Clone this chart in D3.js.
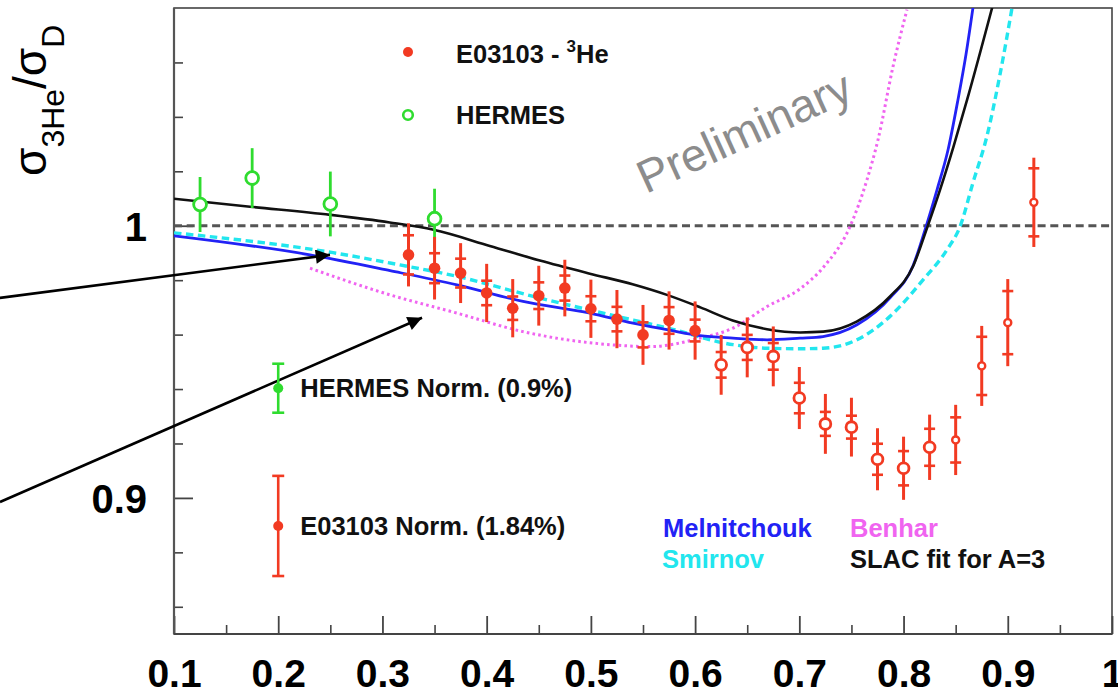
<!DOCTYPE html>
<html>
<head>
<meta charset="utf-8">
<script src="https://cdn.jsdelivr.net/npm/d3@7"></script>
<style>
  html, body { margin: 0; padding: 0; background: #fff; overflow: hidden; }
  svg { display: block; font-family: "Liberation Sans", Arial, Helvetica, sans-serif; }
</style>
</head>
<body>
<svg id="chart" width="1118" height="695"></svg>
<script>
// ---- E03103 3He/D cross-section ratio ----
const e03X = [0.325, 0.35, 0.375, 0.4, 0.425, 0.45, 0.475, 0.5, 0.525, 0.55, 0.575, 0.6,
              0.625, 0.65, 0.675, 0.7, 0.725, 0.75, 0.775, 0.8, 0.825,
              0.85, 0.875, 0.9, 0.925];
const e03Y = [0.9893, 0.9844, 0.9826, 0.9753, 0.9697, 0.9743, 0.9771, 0.9695, 0.9657, 0.9599, 0.9652, 0.9615,
              0.9489, 0.9553, 0.9520, 0.9367, 0.9272, 0.9260, 0.9142, 0.9109, 0.9186,
              0.9213, 0.9485, 0.9644, 1.0086];
const e03Stat = [0.0072, 0.0055, 0.0053, 0.0045, 0.0043, 0.0049, 0.0046, 0.0046, 0.0045, 0.0046, 0.0049, 0.0040,
                 0.0047, 0.0046, 0.0049, 0.0056, 0.0044, 0.0042, 0.0057, 0.0063, 0.0068,
                 0.0083, 0.0107, 0.0116, 0.0125];
const e03Tot = [0.0116, 0.0115, 0.0110, 0.0107, 0.0107, 0.0110, 0.0104, 0.0107, 0.0107, 0.0110, 0.0107, 0.0107,
                0.0110, 0.0110, 0.0110, 0.0114, 0.0110, 0.0108, 0.0114, 0.0116, 0.0120,
                0.0129, 0.0147, 0.0160, 0.0164];
const e03Marker = ["filled", "filled", "filled", "filled", "filled", "filled", "filled", "filled", "filled", "filled", "filled", "filled",
                   "open", "open", "open", "open", "open", "open", "open", "open", "open",
                   "small", "small", "small", "small"];

// ---- HERMES ----
const hermesX = [0.125, 0.175, 0.25, 0.35];
const hermesY = [1.0078, 1.0175, 1.0080, 1.0026];
const hermesErr = [0.0101, 0.0110, 0.0119, 0.0110];

// ---- normalization uncertainties (drawn at x = 0.2) ----
const normLabels = ["HERMES Norm. (0.9%)", "E03103 Norm. (1.84%)"];
const normX = [0.2, 0.2];
const normY = [0.9403, 0.8897];
const normErr = [0.009, 0.0184];

// ---- model calculations ----
const slacX = [0.100, 0.173, 0.250, 0.307, 0.349, 0.403, 0.451, 0.499, 0.540, 0.573, 0.605, 0.636,
               0.669, 0.701, 0.723, 0.755, 0.787, 0.809, 0.823, 0.835, 0.848, 0.861, 0.885];
const slacY = [1.0099, 1.0070, 1.0040, 1.0012, 0.9985, 0.9926, 0.9872, 0.9824, 0.9785, 0.9746, 0.9700, 0.9652,
               0.9620, 0.9608, 0.9611, 0.9648, 0.9740, 0.9850, 0.9997, 1.0132, 1.0292, 1.0463, 1.0801];

const melnX = [0.100, 0.2305, 0.3073, 0.3715, 0.4349, 0.4992, 0.5404, 0.5730, 0.6047, 0.6364, 0.6690,
               0.7006, 0.7227, 0.7553, 0.7870, 0.8091, 0.8206, 0.8321, 0.8427, 0.8522, 0.8599, 0.8666];
const melnY = [0.9963, 0.9893, 0.9835, 0.9783, 0.9722, 0.9679, 0.9642, 0.9618, 0.9596, 0.9587, 0.9581,
               0.9587, 0.9593, 0.9636, 0.9735, 0.9853, 0.9985, 1.0132, 1.0279, 1.0463, 1.0629, 1.0801];

const smirX = [0.100, 0.2526, 0.3073, 0.3715, 0.4512, 0.5183, 0.5730, 0.6364, 0.6690, 0.7006, 0.7227,
               0.7553, 0.7870, 0.8187, 0.8417, 0.8542, 0.8666, 0.8801, 0.8925, 0.9041];
const smirY = [0.9974, 0.9901, 0.9863, 0.9814, 0.9734, 0.9673, 0.9625, 0.9563, 0.9550, 0.9548, 0.9550,
               0.9581, 0.9667, 0.9801, 0.9912, 0.9997, 1.0158, 1.0331, 1.0555, 1.0801];

const benhX = [0.2305, 0.3073, 0.3715, 0.4349, 0.5183, 0.5567, 0.6047, 0.6364, 0.6690, 0.7006, 0.7227,
               0.7486, 0.7649, 0.7755, 0.7899, 0.8033];
const benhY = [0.9844, 0.9746, 0.9679, 0.9611, 0.9563, 0.9556, 0.9587, 0.9624, 0.9703, 0.9768, 0.9846,
               0.9997, 1.0169, 1.0316, 1.0585, 1.0794];

// ---- axis ticks ----
const xMajor = [0.1, 0.2, 0.3, 0.4, 0.5, 0.6, 0.7, 0.8, 0.9, 1.0];
const xMinor = [0.15, 0.25, 0.35, 0.45, 0.55, 0.65, 0.75, 0.85, 0.95];
const xTickLabels = ["0.1", "0.2", "0.3", "0.4", "0.5", "0.6", "0.7", "0.8", "0.9", "1"];
const yMajor = [0.9, 1.0];
const yMinor = [0.86, 0.88, 0.92, 0.94, 0.96, 0.98, 1.02, 1.04, 1.06];
const yTickLabels = ["0.9", "1"];

// ---- annotation arrows (tail, head) in axis units ----
const arrowTailX = [-0.067, -0.067];
const arrowTailY = [0.9735, 0.8985];
const arrowHeadX = [0.2497, 0.338];
const arrowHeadY = [0.9893, 0.9662];

// ---- colours ----
const RED = "#f23a22";
const GREEN = "#2fdc2f";
const BLUE = "#2222f5";
const CYAN = "#22e6ee";
const MAGENTA = "#f064f0";

const svg = d3.select("#chart");
const margin = { left: 174, right: 6, top: 8, bottom: 61 };
const W = 1118, H = 695;

const x = d3.scaleLinear().domain([0.1, 1.0]).range([margin.left, W - margin.right]);
const y = d3.scaleLinear().domain([0.85, 1.08]).range([H - margin.bottom, margin.top]);

const x0 = x.range()[0], x1 = x.range()[1];
const yb = y.range()[0], yt = y.range()[1];

svg.append("defs").append("clipPath").attr("id", "plotClip")
  .append("rect").attr("x", x0).attr("y", yt).attr("width", x1 - x0).attr("height", yb - yt);

svg.append("defs").append("marker")
  .attr("id", "arrowHead")
  .attr("viewBox", "0 0 10 10")
  .attr("refX", 10).attr("refY", 5)
  .attr("markerWidth", 6.5).attr("markerHeight", 5.5)
  .attr("markerUnits", "strokeWidth")
  .attr("orient", "auto")
  .append("path").attr("d", "M0,0 L10,5 L0,10 Z").attr("fill", "#000");

// ---- frame ----
svg.append("rect")
  .attr("x", x0).attr("y", yt).attr("width", x1 - x0).attr("height", yb - yt)
  .attr("fill", "none").attr("stroke", "#444").attr("stroke-width", 1.6);

// ---- axes ----
const xMajAxis = d3.axisBottom(x).tickValues(xMajor).tickSize(-18).tickSizeOuter(0)
  .tickFormat((d, i) => xTickLabels[i]);
const gx = svg.append("g").attr("transform", `translate(0,${yb})`).call(xMajAxis);
gx.select(".domain").remove();
gx.selectAll(".tick line").attr("stroke", "#444").attr("stroke-width", 1.8);
gx.selectAll(".tick text").attr("y", 52.5).attr("dy", null)
  .attr("font-size", 39).attr("font-weight", "bold").attr("fill", "#000")
  .attr("font-family", "'Liberation Sans', Arial, Helvetica, sans-serif");

const gxm = svg.append("g").attr("transform", `translate(0,${yb})`)
  .call(d3.axisBottom(x).tickValues(xMinor).tickSize(-9).tickSizeOuter(0).tickFormat(""));
gxm.select(".domain").remove();
gxm.selectAll(".tick line").attr("stroke", "#444").attr("stroke-width", 1.6);

const yMajAxis = d3.axisLeft(y).tickValues(yMajor).tickSize(-19).tickSizeOuter(0)
  .tickFormat((d, i) => yTickLabels[i]);
const gy = svg.append("g").attr("transform", `translate(${x0},0)`).call(yMajAxis);
gy.select(".domain").remove();
gy.selectAll(".tick line").attr("stroke", "#444").attr("stroke-width", 1.8);
gy.selectAll(".tick text").attr("x", -27).attr("dy", "15")
  .attr("font-size", 40).attr("font-weight", "bold").attr("fill", "#000")
  .attr("font-family", "'Liberation Sans', Arial, Helvetica, sans-serif");

const gym = svg.append("g").attr("transform", `translate(${x0},0)`)
  .call(d3.axisLeft(y).tickValues(yMinor).tickSize(-9).tickSizeOuter(0).tickFormat(""));
gym.select(".domain").remove();
gym.selectAll(".tick line").attr("stroke", "#444").attr("stroke-width", 1.6);

// left and bottom axis lines a bit heavier
svg.append("line").attr("x1", x0).attr("x2", x0).attr("y1", yt).attr("y2", yb)
  .attr("stroke", "#555").attr("stroke-width", 2.2);
svg.append("line").attr("x1", x0).attr("x2", x1).attr("y1", yb).attr("y2", yb)
  .attr("stroke", "#444").attr("stroke-width", 2);

// ---- y-axis title ----
const yTitle = svg.append("text")
  .attr("transform", "translate(46,176) rotate(-90)")
  .attr("font-size", 46).attr("fill", "#000");
yTitle.append("tspan").text("σ");
yTitle.append("tspan").attr("font-size", 32).attr("dy", 18).text("3He");
yTitle.append("tspan").attr("dy", -18).text("/σ");
yTitle.append("tspan").attr("font-size", 32).attr("dy", 18).text("D");

// ---- "Preliminary" watermark ----
svg.append("text")
  .attr("transform", "translate(646,194) rotate(-24.5)")
  .attr("font-size", 46).attr("fill", "#8c8c8c")
  .text("Preliminary");

// ---- curves ----
const plot = svg.append("g").attr("clip-path", "url(#plotClip)");

plot.append("line")
  .attr("x1", x0).attr("x2", x1).attr("y1", y(1)).attr("y2", y(1))
  .attr("stroke", "#555").attr("stroke-width", 3.2).attr("stroke-dasharray", "8,4.7");

const line = d3.line().x(d => x(d[0])).y(d => y(d[1])).curve(d3.curveMonotoneX);
const zip = (a, b) => a.map((v, i) => [v, b[i]]);

plot.append("path").attr("d", line(zip(benhX, benhY)))
  .attr("fill", "none").attr("stroke", MAGENTA).attr("stroke-width", 3)
  .attr("stroke-dasharray", "2.6,3.2");
plot.append("path").attr("d", line(zip(smirX, smirY)))
  .attr("fill", "none").attr("stroke", CYAN).attr("stroke-width", 3.4)
  .attr("stroke-dasharray", "7.5,4.5");
plot.append("path").attr("d", line(zip(melnX, melnY)))
  .attr("fill", "none").attr("stroke", BLUE).attr("stroke-width", 2.8);
plot.append("path").attr("d", line(zip(slacX, slacY)))
  .attr("fill", "none").attr("stroke", "#111").attr("stroke-width", 2.6);

// ---- annotation arrows ----
arrowTailX.forEach((tx, i) => {
  svg.append("line")
    .attr("x1", x(tx)).attr("y1", y(arrowTailY[i]))
    .attr("x2", x(arrowHeadX[i])).attr("y2", y(arrowHeadY[i]))
    .attr("stroke", "#000").attr("stroke-width", 2.6)
    .attr("marker-end", "url(#arrowHead)");
});

// ---- HERMES points ----
const gH = plot.append("g");
hermesX.forEach((hx, i) => {
  gH.append("line")
    .attr("x1", x(hx)).attr("x2", x(hx))
    .attr("y1", y(hermesY[i] - hermesErr[i])).attr("y2", y(hermesY[i] + hermesErr[i]))
    .attr("stroke", GREEN).attr("stroke-width", 2.8);
  gH.append("circle").attr("cx", x(hx)).attr("cy", y(hermesY[i])).attr("r", 6.4)
    .attr("fill", "#fff").attr("stroke", GREEN).attr("stroke-width", 2.8);
});

// ---- E03103 points ----
const gE = plot.append("g");
e03X.forEach((ex, i) => {
  const cx = x(ex), v = e03Y[i];
  gE.append("line")
    .attr("x1", cx).attr("x2", cx)
    .attr("y1", y(v - e03Tot[i])).attr("y2", y(v + e03Tot[i]))
    .attr("stroke", RED).attr("stroke-width", 3);
  [v - e03Stat[i], v + e03Stat[i]].forEach(s => {
    gE.append("line")
      .attr("x1", cx - 5.5).attr("x2", cx + 5.5)
      .attr("y1", y(s)).attr("y2", y(s))
      .attr("stroke", RED).attr("stroke-width", 2.6);
  });
  const m = e03Marker[i];
  if (m === "filled") {
    gE.append("circle").attr("cx", cx).attr("cy", y(v)).attr("r", 5.8).attr("fill", RED);
  } else {
    gE.append("circle").attr("cx", cx).attr("cy", y(v)).attr("r", m === "open" ? 5.4 : 3.5)
      .attr("fill", "#fff").attr("stroke", RED).attr("stroke-width", m === "open" ? 2.8 : 2.4);
  }
});

// ---- normalization bars ----
const normColors = [GREEN, RED];
normX.forEach((nx, i) => {
  const cx = x(nx);
  const lo = y(normY[i] - normErr[i]), hi = y(normY[i] + normErr[i]);
  svg.append("line").attr("x1", cx).attr("x2", cx).attr("y1", lo).attr("y2", hi)
    .attr("stroke", normColors[i]).attr("stroke-width", 2.6);
  [lo, hi].forEach(yy => {
    svg.append("line").attr("x1", cx - 6).attr("x2", cx + 6).attr("y1", yy).attr("y2", yy)
      .attr("stroke", normColors[i]).attr("stroke-width", 2.6);
  });
  svg.append("circle").attr("cx", cx).attr("cy", y(normY[i])).attr("r", 5).attr("fill", normColors[i]);
  svg.append("text").attr("x", cx + 22).attr("y", y(normY[i]) + 9)
    .attr("font-size", 25.5).attr("font-weight", "bold").attr("fill", "#111")
    .text(normLabels[i]);
});

// ---- data legend ----
const legend = svg.append("g").attr("font-size", 25.5).attr("font-weight", "bold").attr("fill", "#111");
legend.append("circle").attr("cx", 408).attr("cy", 52).attr("r", 5).attr("fill", RED);
const l1 = legend.append("text").attr("x", 456).attr("y", 63);
l1.append("tspan").text("E03103 - ");
l1.append("tspan").attr("font-size", 17).attr("dy", -11).text("3");
l1.append("tspan").attr("dy", 11).text("He");
legend.append("circle").attr("cx", 408).attr("cy", 115).attr("r", 4.8)
  .attr("fill", "#fff").attr("stroke", GREEN).attr("stroke-width", 2.6);
legend.append("text").attr("x", 456).attr("y", 124).text("HERMES");

// ---- model legend ----
const modelNames = ["Melnitchouk", "Smirnov", "Benhar", "SLAC fit for A=3"];
const modelColors = [BLUE, CYAN, MAGENTA, "#111"];
const modelPos = [[663, 537], [662, 568], [850, 537], [850, 568]];
modelNames.forEach((n, i) => {
  svg.append("text").attr("x", modelPos[i][0]).attr("y", modelPos[i][1])
    .attr("font-size", 25.5).attr("font-weight", "bold").attr("fill", modelColors[i])
    .text(n);
});
</script>
</body>
</html>
